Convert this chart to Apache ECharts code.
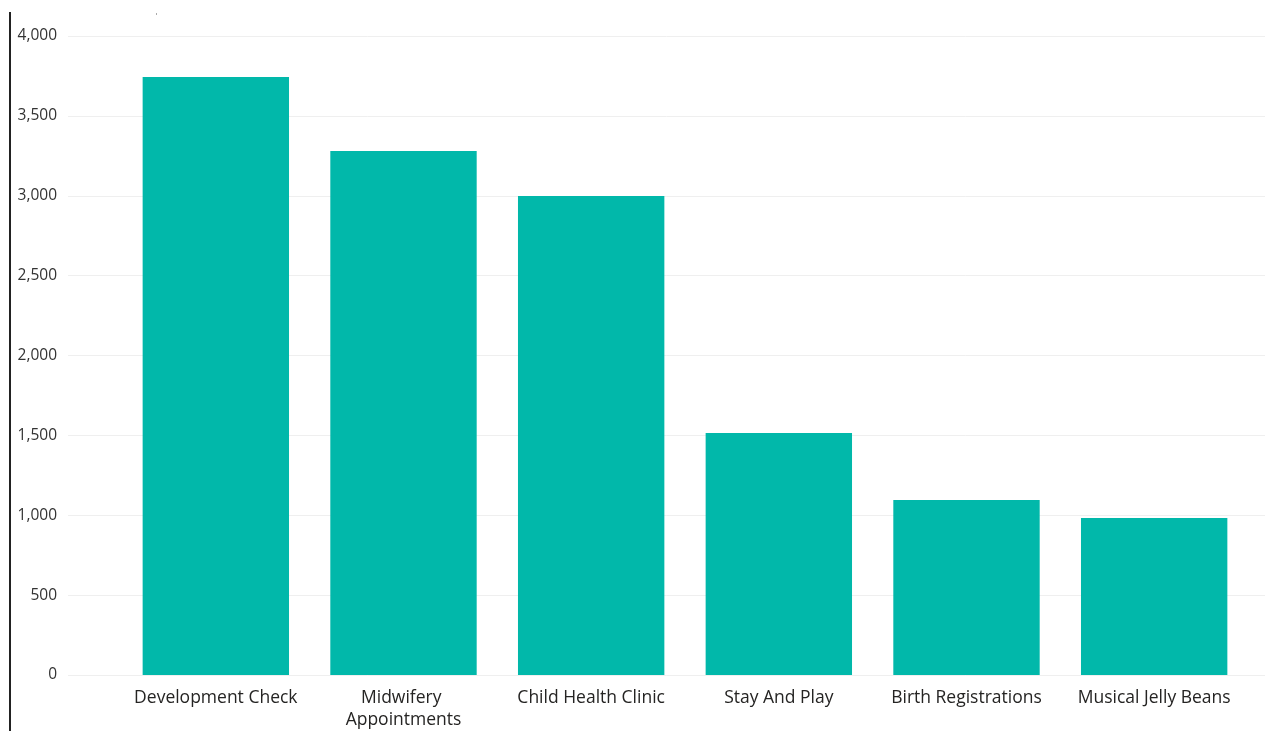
<!DOCTYPE html>
<html>
<head>
<meta charset="utf-8">
<script src="https://cdn.jsdelivr.net/npm/echarts@6/dist/echarts.min.js"></script>
<style>html,body{margin:0;padding:0;background:#fff}#c{width:1274px;height:731px}</style>
</head>
<body>
<div id="c"></div>
<script>
const categories = ["Development Check", "Midwifery Appointments", "Child Health Clinic", "Stay And Play", "Birth Registrations", "Musical Jelly Beans"];
const values = [3743, 3280, 2998, 1515, 1095, 983];
const yTicks = { min: 0, max: 4000, interval: 500 };

const chart = echarts.init(document.getElementById('c'));
const font = '"Open Sans", "Noto Sans", sans-serif';
chart.setOption({
  animation: false,
  grid: [
    { left: 68, right: 9, top: 36, bottom: 56 },
    { left: 122, right: 26, top: 36, bottom: 56 }
  ],
  xAxis: [
    { gridIndex: 0, type: 'category', data: categories, show: false },
    {
      gridIndex: 1, type: 'category', data: categories,
      axisLine: { show: false }, axisTick: { show: false },
      axisLabel: {
        color: '#252423', fontFamily: font, fontSize: 17.5, margin: 12,
        lineHeight: 22, width: 180, overflow: 'break', interval: 0
      }
    }
  ],
  yAxis: [
    {
      gridIndex: 0, type: 'value', min: yTicks.min, max: yTicks.max, interval: yTicks.interval,
      axisLine: { show: false }, axisTick: { show: false },
      axisLabel: {
        color: '#333333', fontFamily: font, fontSize: 15.5, margin: 11,
        formatter: v => v.toLocaleString('en-US')
      },
      splitLine: { lineStyle: { color: '#efefef', width: 1 } }
    },
    {
      gridIndex: 1, type: 'value', min: yTicks.min, max: yTicks.max, interval: yTicks.interval,
      show: false, splitLine: { show: false }
    }
  ],
  series: [{
    type: 'bar', xAxisIndex: 1, yAxisIndex: 1, data: values,
    barWidth: '78%',
    itemStyle: { color: '#01B8AA' }
  }],
  graphic: [
    { type: 'rect', shape: { x: 9, y: 12, width: 2, height: 719 }, style: { fill: '#222' } },
    { type: 'rect', shape: { x: 156, y: 13, width: 1, height: 2 }, style: { fill: '#aaa' } }
  ]
});
</script>
</body>
</html>
